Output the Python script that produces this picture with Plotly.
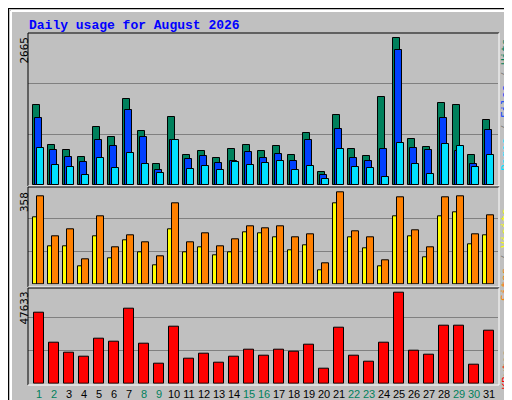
import plotly.graph_objects as go
from plotly.subplots import make_subplots

days = list(range(1, 32))
weekend = [1, 2, 8, 9, 15, 16, 22, 23, 29, 30]

hits = [1446, 730, 640, 513, 1056, 875, 1562, 983, 387, 1237, 550, 622, 495, 658, 730, 622,
        712, 550, 947, 242, 1273, 658, 532, 1598, 2665, 839, 694, 1490, 1454, 550, 1182]
files = [1206, 640, 513, 423, 821, 712, 1363, 875, 271, 821, 477, 532, 405, 441, 604, 495,
         568, 441, 821, 188, 1020, 495, 441, 658, 2448, 676, 640, 1219, 622, 387, 1002]
pages = [676, 369, 333, 188, 495, 315, 586, 387, 224, 821, 297, 351, 278, 423, 369, 405,
         441, 278, 351, 116, 658, 333, 315, 152, 767, 387, 206, 749, 712, 333, 550]
sites = [261, 148, 148, 70, 187, 101, 171, 125, 74, 214, 125, 144, 113, 125, 202, 198,
         183, 132, 152, 54, 315, 183, 140, 70, 265, 187, 105, 265, 280, 156, 191]
visits = [342, 187, 214, 97, 265, 144, 191, 163, 109, 315, 163, 198, 148, 175, 226, 218,
          226, 183, 195, 82, 358, 206, 183, 93, 339, 210, 144, 339, 342, 195, 268]
kbytes = [37200, 21550, 16340, 14250, 23640, 22070, 39280, 21030, 10600, 29900, 13210, 15820,
          11120, 14250, 17900, 14770, 17900, 16860, 20510, 7990, 29370, 14770, 11640, 21550,
          47633, 17380, 15290, 30410, 30410, 10080, 27810]

C_HITS, C_FILES, C_PAGES = "#00805C", "#0040FF", "#00E0FF"
C_SITES, C_VISITS, C_KB = "#FFFF00", "#FF8000", "#FF0000"
BG = "#C0C0C0"
W, H = 512, 400


def py(p):
    # pixel row -> paper y
    return 1 - p / H


def px(p):
    return p / W


fig = make_subplots(rows=3, cols=1)
line = dict(color="black", width=1)
fig.add_trace(go.Bar(x=days, y=hits, marker=dict(color=C_HITS, line=line), width=0.467, offset=-0.38), 1, 1)
fig.add_trace(go.Bar(x=days, y=files, marker=dict(color=C_FILES, line=line), width=0.467, offset=-0.247), 1, 1)
fig.add_trace(go.Bar(x=days, y=pages, marker=dict(color=C_PAGES, line=line), width=0.467, offset=-0.113), 1, 1)
fig.add_trace(go.Bar(x=days, y=sites, marker=dict(color=C_SITES, line=line), width=0.267, offset=-0.38), 2, 1)
fig.add_trace(go.Bar(x=days, y=visits, marker=dict(color=C_VISITS, line=line), width=0.467, offset=-0.113), 2, 1)
fig.add_trace(go.Bar(x=days, y=kbytes, marker=dict(color=C_KB, line=line), width=0.667, offset=-0.313), 3, 1)

# panels: (top px, bottom px, range max)
panels = [(25, 177, max(hits) * 152 / 147.4),
          (177.3, 276.3, max(visits) * 99 / 92),
          (276.7, 375.7, max(kbytes) * 99 / 91.3)]
ticktext = ['<span style="color:%s">%d</span>' % (C_HITS if d in weekend else "black", d) for d in days]
for i, (top, bot, rmax) in enumerate(panels, start=1):
    fig.update_yaxes(row=i, col=1, domain=[py(bot), py(top)], range=[0, rmax], dtick=rmax / 3,
                     showticklabels=False, showgrid=True, gridcolor="#808080", gridwidth=1,
                     zeroline=False, showline=False)
    fig.update_xaxes(row=i, col=1, domain=[px(20), px(490)], range=[0.267, 31.6],
                     showgrid=False, zeroline=False, showline=False,
                     showticklabels=(i == 3), tickvals=days, ticktext=ticktext, ticks="",
                     tickangle=0, ticklabelstandoff=2,
                     tickfont=dict(family="Liberation Sans", size=11, color="black"))

shapes = [
    dict(type="rect", xref="paper", yref="paper", x0=0, x1=1, y0=0, y1=1, line=dict(color="black", width=2)),
    dict(type="line", xref="paper", yref="paper", x0=px(506), x1=px(506), y0=py(395), y1=py(6), line=dict(color="#808080", width=4)),
    dict(type="line", xref="paper", yref="paper", x0=px(6), x1=px(507), y0=py(396), y1=py(396), line=dict(color="#808080", width=4)),
    dict(type="line", xref="paper", yref="paper", x0=px(3), x1=px(508), y0=py(3), y1=py(3), line=dict(color="white", width=2)),
    dict(type="line", xref="paper", yref="paper", x0=px(3), x1=px(3), y0=py(3), y1=py(396), line=dict(color="white", width=2)),
]
for top, bot in [(25, 178), (179, 279), (280, 377)]:
    shapes += [
        dict(type="line", xref="paper", yref="paper", x0=px(20), x1=px(491), y0=py(top), y1=py(top), line=dict(color="black", width=1)),
        dict(type="line", xref="paper", yref="paper", x0=px(20), x1=px(20), y0=py(top), y1=py(bot), line=dict(color="black", width=1)),
        dict(type="line", xref="paper", yref="paper", x0=px(20), x1=px(491), y0=py(bot), y1=py(bot), line=dict(color="white", width=1)),
        dict(type="line", xref="paper", yref="paper", x0=px(491), x1=px(491), y0=py(top), y1=py(bot), line=dict(color="white", width=1)),
    ]

mono = "DejaVu Sans Mono"
ann = [
    dict(text="<b>Daily usage for August 2026</b>", x=px(19), y=py(8), xanchor="left", yanchor="top",
         font=dict(family="Liberation Mono", size=13, color="#0000FF")),
    dict(text="2665", x=px(16), y=py(27), textangle=-90, xanchor="center", yanchor="top",
         font=dict(family=mono, size=11, color="black")),
    dict(text="358", x=px(16), y=py(182), textangle=-90, xanchor="center", yanchor="top",
         font=dict(family=mono, size=11, color="black")),
    dict(text="47633", x=px(16), y=py(282), textangle=-90, xanchor="center", yanchor="top",
         font=dict(family=mono, size=11, color="black")),
    dict(text='<span style="color:%s">Pages</span><span style="color:#808080"> / </span><span style="color:%s">Files</span><span style="color:#808080"> / </span><span style="color:%s">Hits</span>' % (C_PAGES, C_FILES, C_HITS),
         x=px(506), y=py(28), textangle=-90, xanchor="right", yanchor="top", font=dict(family=mono, size=11, color="black")),
    dict(text='<span style="color:%s">Sites</span><span style="color:#808080"> / </span><span style="color:%s">Visits</span>' % (C_VISITS, C_SITES),
         x=px(506), y=py(198), textangle=-90, xanchor="right", yanchor="top", font=dict(family=mono, size=11, color="black")),
    dict(text="KBytes", x=px(506), y=py(340), textangle=-90, xanchor="right", yanchor="top",
         font=dict(family=mono, size=11, color=C_KB)),
]
for a in ann:
    a.update(xref="paper", yref="paper", showarrow=False)

fig.update_layout(width=W, height=H, margin=dict(l=0, r=0, t=0, b=0), paper_bgcolor=BG, plot_bgcolor=BG,
                  barmode="overlay", showlegend=False, bargap=0, shapes=shapes, annotations=ann)
fig.write_html("out.html")
